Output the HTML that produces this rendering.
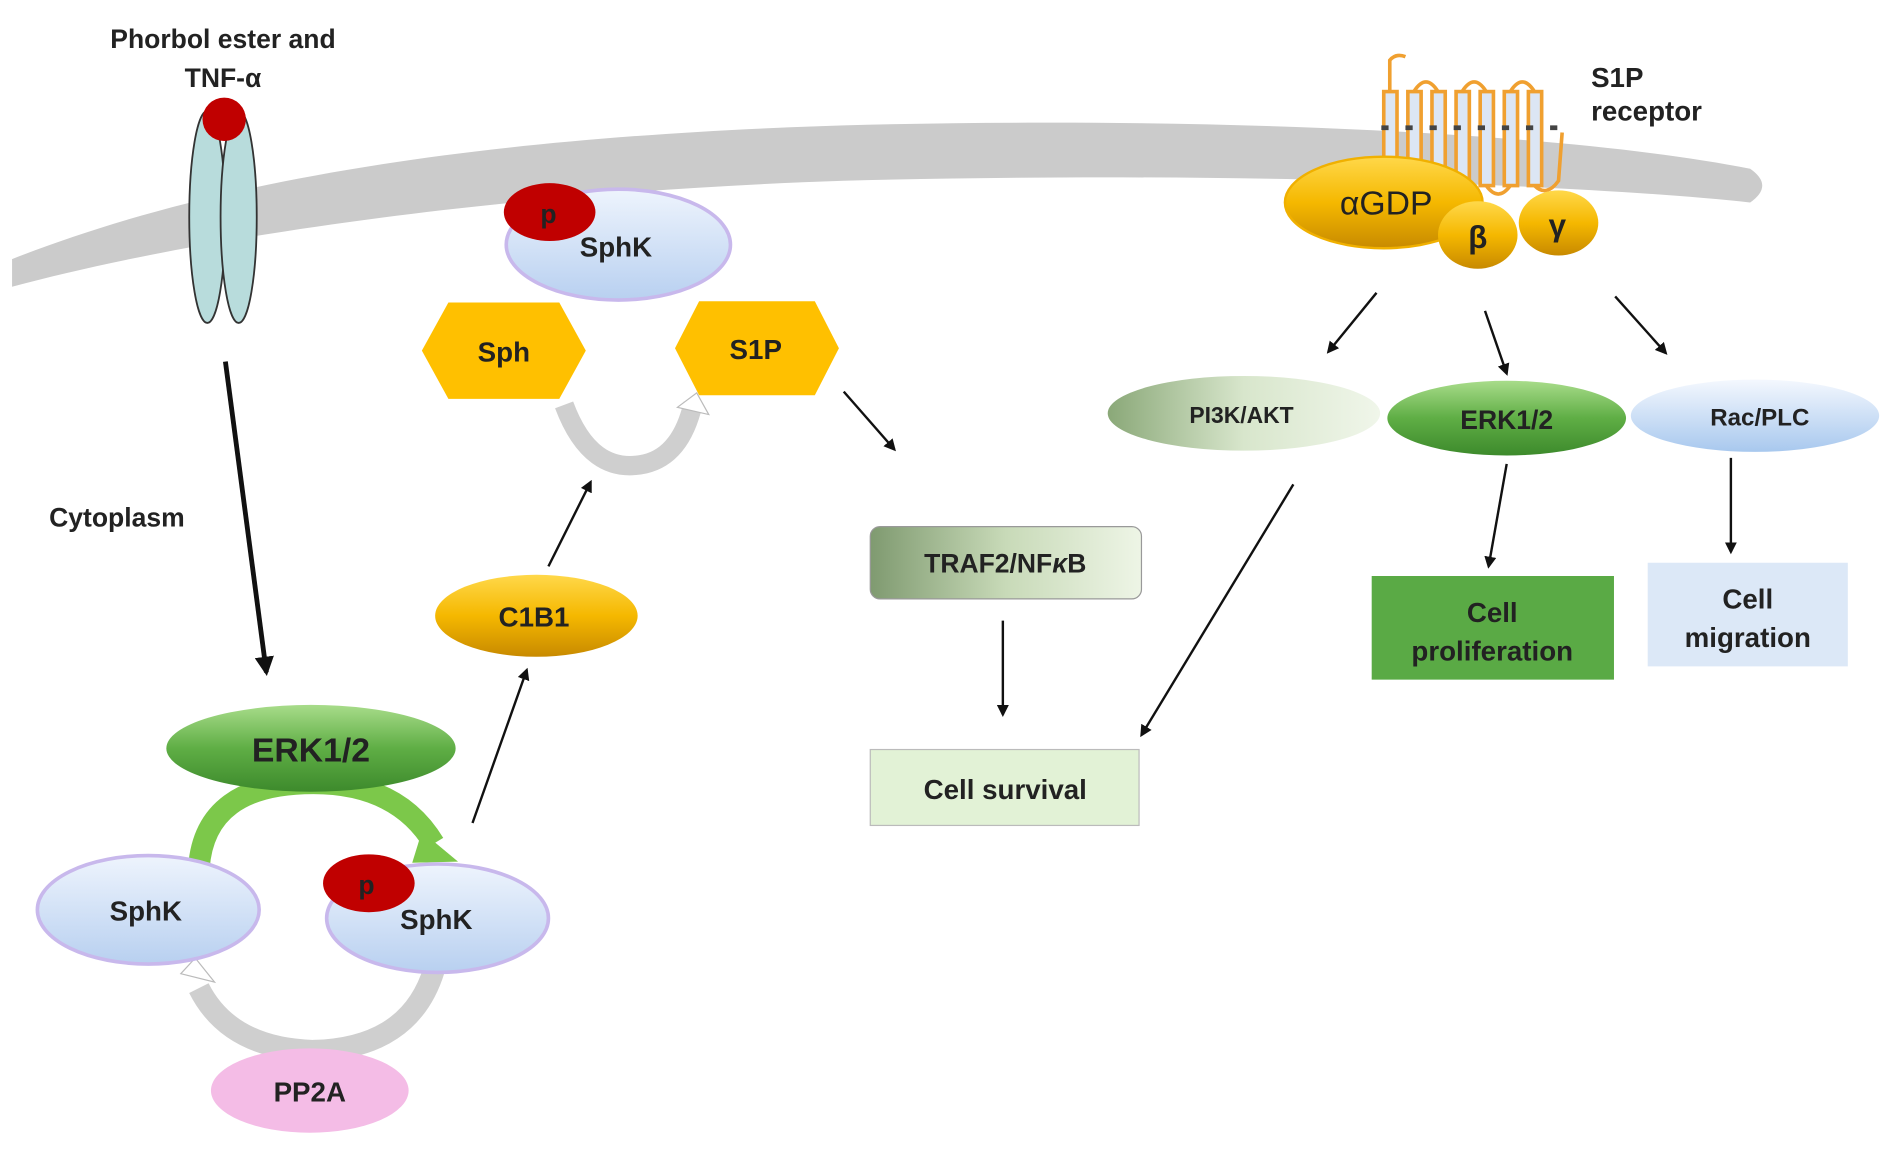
<!DOCTYPE html>
<html><head><meta charset="utf-8"><style>
html,body{margin:0;padding:0;background:#fff;width:1890px;height:1152px;overflow:hidden}
svg{display:block}
text{font-family:"Liberation Sans",sans-serif;font-weight:bold;fill:#222;text-anchor:middle}
</style></head><body>
<svg width="1890" height="1152" viewBox="0 0 1568 956" preserveAspectRatio="none" xmlns="http://www.w3.org/2000/svg">
<defs>
<marker id="ah" markerWidth="10" markerHeight="10" refX="8" refY="5" orient="auto" markerUnits="userSpaceOnUse"><path d="M0,0 L10,5 L0,10 z" fill="#111"/></marker>
<marker id="ahb" markerWidth="16" markerHeight="16" refX="13" refY="8" orient="auto" markerUnits="userSpaceOnUse"><path d="M0,0 L16,8 L0,16 z" fill="#111"/></marker>
<linearGradient id="gr" x1="0" y1="0" x2="0" y2="1"><stop offset="0" stop-color="#a8dc8a"/><stop offset="0.5" stop-color="#5fae45"/><stop offset="1" stop-color="#3d8a2c"/></linearGradient>
<linearGradient id="bl" x1="0" y1="0" x2="0" y2="1"><stop offset="0" stop-color="#eef4fd"/><stop offset="1" stop-color="#b8d0f0"/></linearGradient>
<linearGradient id="gd" x1="0" y1="0" x2="0" y2="1"><stop offset="0" stop-color="#ffd84a"/><stop offset="0.5" stop-color="#f5b800"/><stop offset="1" stop-color="#c88a00"/></linearGradient>
<linearGradient id="pi" x1="0" y1="0" x2="1" y2="0"><stop offset="0" stop-color="#8aa878"/><stop offset="0.5" stop-color="#d8e6cc"/><stop offset="1" stop-color="#f0f6ea"/></linearGradient>
<linearGradient id="tr" x1="0" y1="0" x2="1" y2="0"><stop offset="0" stop-color="#7f9a70"/><stop offset="0.5" stop-color="#c8dab8"/><stop offset="1" stop-color="#eef5e6"/></linearGradient>
<linearGradient id="rc" x1="0" y1="0" x2="0" y2="1"><stop offset="0" stop-color="#f4f8fe"/><stop offset="1" stop-color="#a8c8ee"/></linearGradient>
</defs>
<!-- membrane -->
<path d="M10,215 C150,160 350,115 700,104 C1000,96 1300,110 1452,140 Q1472,154 1452,168 C1300,152 1000,142 700,150 C400,160 150,200 10,238 z" fill="#cbcbcb"/>
<!-- left receptor -->
<ellipse cx="172" cy="180" rx="15" ry="88" fill="#b8dcdc" stroke="#333" stroke-width="1.5"/>
<ellipse cx="198" cy="180" rx="15" ry="88" fill="#b8dcdc" stroke="#333" stroke-width="1.5"/>
<circle cx="186" cy="99" r="18" fill="#c00000"/>
<text x="185" y="40" font-size="22">Phorbol ester and</text>
<text x="185" y="72" font-size="22">TNF-α</text>
<text x="97" y="437" font-size="22">Cytoplasm</text>
<line x1="187" y1="300" x2="221" y2="558" stroke="#111" stroke-width="4" marker-end="url(#ahb)"/>
<!-- ERK cycle -->
<path d="M165,720 Q170,650 260,650 Q330,650 360,700" fill="none" stroke="#7cc84a" stroke-width="18"/>
<path d="M350,690 L380,715 L342,716 z" fill="#7cc84a"/>
<path d="M360,805 Q340,870 260,872 Q190,870 165,820" fill="none" stroke="#cfcfcf" stroke-width="18"/>
<path d="M150,808 L162,795 L178,815 z" fill="#fff" stroke="#bbb"/>
<ellipse cx="258" cy="621" rx="120" ry="36" fill="url(#gr)"/>
<text x="258" y="632" font-size="28">ERK1/2</text>
<ellipse cx="123" cy="755" rx="92" ry="45" fill="url(#bl)" stroke="#c8b8ec" stroke-width="3"/>
<text x="121" y="764" font-size="23">SphK</text>
<ellipse cx="363" cy="762" rx="92" ry="45" fill="url(#bl)" stroke="#c8b8ec" stroke-width="3"/>
<text x="362" y="771" font-size="23">SphK</text>
<ellipse cx="306" cy="733" rx="38" ry="24" fill="#c00000"/>
<text x="304" y="742" font-size="22">p</text>
<ellipse cx="257" cy="905" rx="82" ry="35" fill="#f4bce6"/>
<text x="257" y="914" font-size="23">PP2A</text>
<line x1="392" y1="683" x2="437" y2="556" stroke="#111" stroke-width="2" marker-end="url(#ah)"/>
<ellipse cx="445" cy="511" rx="84" ry="34" fill="url(#gd)"/>
<text x="443" y="520" font-size="23">C1B1</text>
<line x1="455" y1="470" x2="490" y2="400" stroke="#111" stroke-width="2" marker-end="url(#ah)"/>
<!-- Sph / S1P -->
<path d="M468,336 Q490,395 535,385 Q565,378 575,335" fill="none" stroke="#cfcfcf" stroke-width="16"/>
<path d="M562,338 L578,326 L588,344 z" fill="#fff" stroke="#bbb"/>
<polygon points="350,291 372,251 464,251 486,291 464,331 372,331" fill="#ffc000"/>
<text x="418" y="300" font-size="23">Sph</text>
<polygon points="560,289 580,250 676,250 696,289 676,328 580,328" fill="#ffc000"/>
<text x="627" y="298" font-size="23">S1P</text>
<ellipse cx="513" cy="203" rx="93" ry="46" fill="url(#bl)" stroke="#c8b8ec" stroke-width="3"/>
<text x="511" y="213" font-size="23">SphK</text>
<ellipse cx="456" cy="176" rx="38" ry="24" fill="#c00000"/>
<text x="455" y="185" font-size="22">p</text>
<line x1="700" y1="325" x2="742" y2="373" stroke="#111" stroke-width="2" marker-end="url(#ah)"/>
<rect x="722" y="437" width="225" height="60" rx="8" fill="url(#tr)" stroke="#999"/>
<text x="834" y="475" font-size="22">TRAF2/NF<tspan font-style="italic">κ</tspan>B</text>
<line x1="832" y1="515" x2="832" y2="593" stroke="#111" stroke-width="2" marker-end="url(#ah)"/>
<rect x="722" y="622" width="223" height="63" fill="#e2f2d6" stroke="#bbb"/>
<text x="834" y="663" font-size="23">Cell survival</text>
<line x1="1073" y1="402" x2="947" y2="610" stroke="#111" stroke-width="2" marker-end="url(#ah)"/>
<!-- right receptor -->
<g fill="#dce6f4" stroke="#f0a030" stroke-width="3">
<rect x="1148" y="76" width="11" height="78"/>
<rect x="1168" y="76" width="11" height="78"/>
<rect x="1188" y="76" width="11" height="78"/>
<rect x="1208" y="76" width="11" height="78"/>
<rect x="1228" y="76" width="11" height="78"/>
<rect x="1248" y="76" width="11" height="78"/>
<rect x="1268" y="76" width="11" height="78"/>
</g>
<g fill="none" stroke="#f0a030" stroke-width="3">
<path d="M1153,76 L1153,50 Q1158,44 1166,47"/>
<path d="M1173,76 Q1183,60 1193,76 M1213,76 Q1223,60 1233,76 M1253,76 Q1263,60 1273,76"/>
<path d="M1153,154 Q1163,168 1173,154 M1193,154 Q1203,168 1213,154 M1233,154 Q1243,168 1253,154 M1273,154 Q1283,164 1293,150 L1296,110"/>
</g>
<line x1="1146" y1="106" x2="1298" y2="106" stroke="#444" stroke-width="4" stroke-dasharray="6,14"/>
<ellipse cx="1148" cy="168" rx="82" ry="38" fill="url(#gd)" stroke="#f0b000" stroke-width="2"/>
<text x="1150" y="178" font-size="28" style="font-weight:normal">αGDP</text>
<ellipse cx="1226" cy="195" rx="33" ry="28" fill="url(#gd)"/>
<text x="1226" y="206" font-size="26">β</text>
<ellipse cx="1293" cy="185" rx="33" ry="27" fill="url(#gd)"/>
<text x="1292" y="196" font-size="26">γ</text>
<text x="1320" y="72" font-size="23" style="text-anchor:start">S1P</text>
<text x="1320" y="100" font-size="23" style="text-anchor:start">receptor</text>
<line x1="1142" y1="243" x2="1102" y2="292" stroke="#111" stroke-width="2" marker-end="url(#ah)"/>
<line x1="1232" y1="258" x2="1250" y2="310" stroke="#111" stroke-width="2" marker-end="url(#ah)"/>
<line x1="1340" y1="246" x2="1382" y2="293" stroke="#111" stroke-width="2" marker-end="url(#ah)"/>
<ellipse cx="1032" cy="343" rx="113" ry="31" fill="url(#pi)"/>
<text x="1030" y="351" font-size="19">PI3K/AKT</text>
<ellipse cx="1250" cy="347" rx="99" ry="31" fill="url(#gr)"/>
<text x="1250" y="356" font-size="22">ERK1/2</text>
<ellipse cx="1456" cy="345" rx="103" ry="30" fill="url(#rc)"/>
<text x="1460" y="353" font-size="20">Rac/PLC</text>
<line x1="1250" y1="385" x2="1235" y2="470" stroke="#111" stroke-width="2" marker-end="url(#ah)"/>
<line x1="1436" y1="380" x2="1436" y2="458" stroke="#111" stroke-width="2" marker-end="url(#ah)"/>
<rect x="1138" y="478" width="201" height="86" fill="#5aaa45"/>
<text x="1238" y="516" font-size="23">Cell</text>
<text x="1238" y="548" font-size="23">proliferation</text>
<rect x="1367" y="467" width="166" height="86" fill="#dce8f7"/>
<text x="1450" y="505" font-size="23">Cell</text>
<text x="1450" y="537" font-size="23">migration</text>
</svg>
</body></html>
